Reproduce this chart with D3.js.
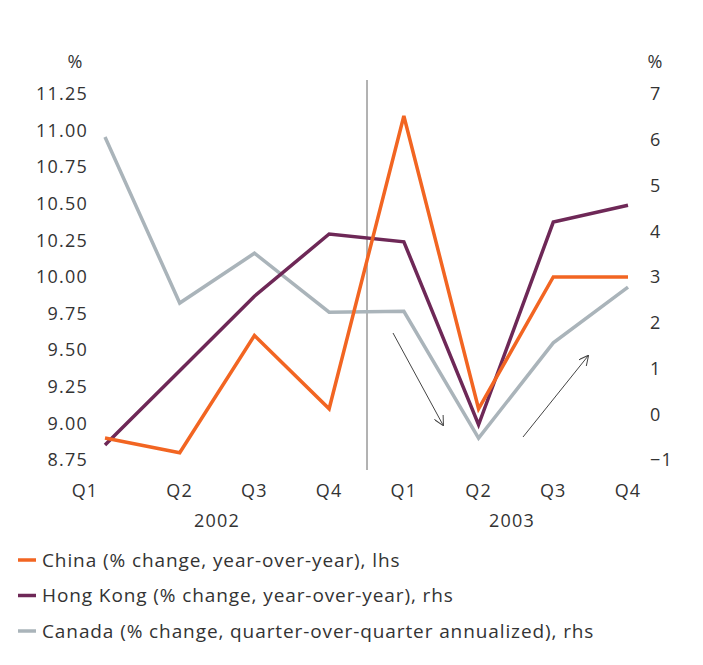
<!DOCTYPE html>
<html><head><meta charset="utf-8">
<script src="https://cdn.jsdelivr.net/npm/d3@7"></script>
<style>body{margin:0;background:#fff}text{font-family:"Open Sans",sans-serif;fill:#333}</style>
</head><body><svg id="c" width="703" height="665"></svg>
<script>
const quarters = ['Q1', 'Q2', 'Q3', 'Q4', 'Q1', 'Q2', 'Q3', 'Q4'];
const years = ['2002', '2003'];
const china = [8.9, 8.8, 9.6, 9.1, 11.1, 9.1, 10.0, 10.0];
const hongKong = [-0.67, 0.95, 2.58, 3.94, 3.77, -0.23, 4.2, 4.57];
const canada = [6.06, 2.43, 3.52, 2.23, 2.25, -0.52, 1.56, 2.78];
const leftTicks = [8.75, 9, 9.25, 9.5, 9.75, 10, 10.25, 10.5, 10.75, 11, 11.25];
const rightTicks = [-1, 0, 1, 2, 3, 4, 5, 6, 7];
const legend = [
  ['China (% change, year-over-year), lhs', '#f26522'],
  ['Hong Kong (% change, year-over-year), rhs', '#6e2857'],
  ['Canada (% change, quarter-over-quarter annualized), rhs', '#aab4ba']
];

const svg = d3.select('#c');
const x = d3.scaleLinear().domain([0, 7]).range([105, 628]);
const yl = d3.scaleLinear().domain([8.75, 11.25]).range([460, 94]);
const yr = d3.scaleLinear().domain([-1, 7]).range([460, 94]);
const fs = '18px', ls = '1.2px';

svg.append('g').attr('transform', 'translate(88,0)')
  .call(d3.axisLeft(yl).tickValues(leftTicks).tickFormat(d3.format('.2f')).tickSize(0).tickPadding(0))
  .call(g => g.select('.domain').remove());
svg.append('g').attr('transform', 'translate(650,0)')
  .call(d3.axisRight(yr).tickValues(rightTicks).tickSize(0).tickPadding(0))
  .call(g => g.select('.domain').remove());
svg.selectAll('.tick text').attr('font-family', null).style('font-size', fs)
  .style('letter-spacing', ls).style('fill', '#333');

svg.append('text').attr('x', 75).attr('y', 68).attr('text-anchor', 'middle').style('font-size', fs).text('%');
svg.append('text').attr('x', 655).attr('y', 68).attr('text-anchor', 'middle').style('font-size', fs).text('%');

svg.append('line').attr('x1', 367).attr('x2', 367).attr('y1', 80).attr('y2', 470)
  .attr('stroke', '#666').attr('stroke-width', 1);

svg.selectAll('.q').data(quarters).join('text')
  .attr('x', (d, i) => i === 0 ? 85 : x(i)).attr('y', 497).attr('text-anchor', 'middle')
  .style('font-size', fs).style('letter-spacing', ls).text(d => d);
svg.selectAll('.yr').data(years).join('text')
  .attr('x', (d, i) => i === 0 ? 217 : 512).attr('y', 527).attr('text-anchor', 'middle')
  .style('font-size', fs).style('letter-spacing', ls).text(d => d);

const line = (ys) => d3.line().x((d, i) => x(i)).y(d => ys(d));
[[canada, yr, '#aab4ba'], [hongKong, yr, '#6e2857'], [china, yl, '#f26522']].forEach(([data, s, c]) => {
  svg.append('path').datum(data).attr('d', line(s)).attr('fill', 'none')
    .attr('stroke', c).attr('stroke-width', 3.5).attr('stroke-linejoin', 'miter');
});

svg.append('defs').append('marker').attr('id', 'ah').attr('viewBox', '0 0 10 10')
  .attr('refX', 9).attr('refY', 5).attr('markerWidth', 10).attr('markerHeight', 10)
  .attr('orient', 'auto').attr('markerUnits', 'userSpaceOnUse')
  .append('path').attr('d', 'M0,0L10,5L0,10').attr('fill', 'none').attr('stroke', '#444');
[[393, 333, 443, 425], [523, 437, 588, 356]].forEach(a => {
  svg.append('line').attr('x1', a[0]).attr('y1', a[1]).attr('x2', a[2]).attr('y2', a[3])
    .attr('stroke', '#444').attr('stroke-width', 1).attr('marker-end', 'url(#ah)');
});

const lg = svg.selectAll('.lg').data(legend).join('g')
  .attr('transform', (d, i) => `translate(18,${560 + i * 35.5})`);
lg.append('line').attr('x1', 0).attr('x2', 18).attr('stroke', d => d[1]).attr('stroke-width', 3.5);
lg.append('text').attr('x', 24).attr('dy', '0.35em').style('font-size', '19px')
  .style('letter-spacing', '0.9px').text(d => d[0]);
</script></body></html>
